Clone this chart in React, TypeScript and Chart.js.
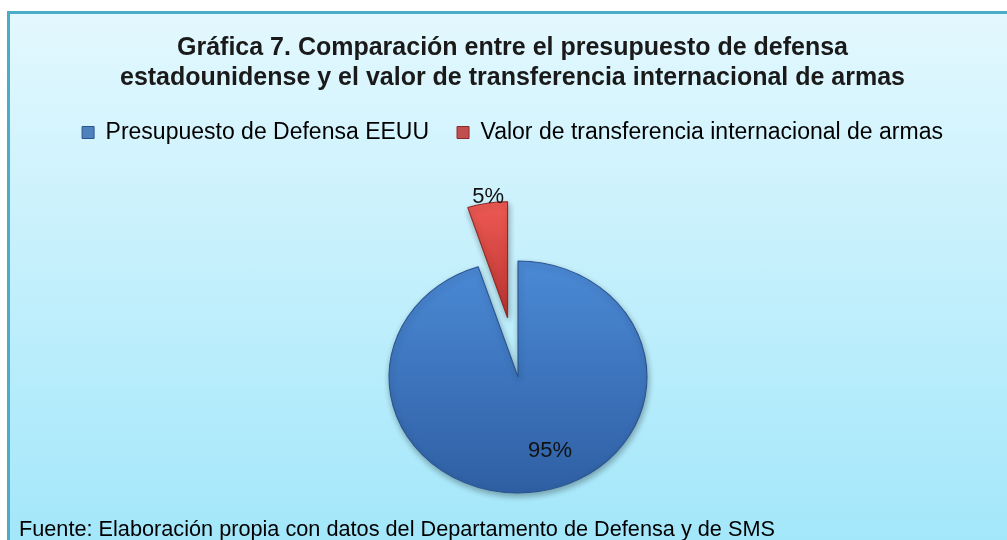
import React, { useEffect, useRef } from 'react';
import { Chart, registerables } from 'chart.js';

Chart.register(...registerables);

// ---- data ----
const TITLE_LINES = [
  'Gráfica 7. Comparación entre el presupuesto de defensa',
  'estadounidense y el valor de transferencia internacional de armas',
];
const CATEGORIES = ['Presupuesto de Defensa EEUU', 'Valor de transferencia internacional de armas'];
const SHARES = [95, 5];
const SOURCE_NOTE = 'Fuente: Elaboración propia con datos del Departamento de Defensa y de SMS';

// ---- style ----
const FONT = "'Liberation Sans', Arial, sans-serif";
const PIE_RADIUS = 116;
const STRETCH_X = 1.112;
const SHIFT_X = 5.5;
const EXPLODE = [0, 60];
const LABEL_ANGLE_SHIFT = [-12.3, 0.8];
const LABEL_RADIUS = [0.685, 1.05];
const SOLID = ['#4f81bd', '#c0504d'];
const GRAD_TOP = ['#4b8ad6', '#ee5a54'];
const GRAD_BOTTOM = ['#2f5fa3', '#bb332f'];
const BORDERS = ['#2a5490', '#8e2a26'];

const piePlugin = {
  id: 'pieStyling',
  afterDatasetsUpdate(chart: any) {
    const meta = chart.getDatasetMeta(0);
    meta.data.forEach((el: any, i: number) => {
      const off = EXPLODE[i] || 0;
      if (!off) return;
      const mid = (el.startAngle + el.endAngle) / 2;
      el.x += Math.cos(mid) * off;
      el.y += Math.sin(mid) * off;
    });
  },
  beforeDatasetsDraw(chart: any) {
    const ctx = chart.ctx;
    const a = chart.chartArea;
    const cx = (a.left + a.right) / 2;
    ctx.save();
    ctx.translate(cx + SHIFT_X, 0);
    ctx.scale(STRETCH_X, 1);
    ctx.translate(-cx, 0);
    ctx.shadowColor = 'rgba(0,0,0,0.32)';
    ctx.shadowBlur = 6;
    ctx.shadowOffsetX = 1;
    ctx.shadowOffsetY = 3;
  },
  afterDatasetsDraw(chart: any) {
    const ctx = chart.ctx;
    ctx.restore();
    const a = chart.chartArea;
    const cx = (a.left + a.right) / 2;
    const meta = chart.getDatasetMeta(0);
    const values = chart.data.datasets[0].data as number[];
    const total = values.reduce((s, v) => s + v, 0);
    ctx.save();
    ctx.font = `22px ${FONT}`;
    ctx.fillStyle = '#111111';
    ctx.textAlign = 'center';
    ctx.textBaseline = 'middle';
    meta.data.forEach((el: any, i: number) => {
      const mid = (el.startAngle + el.endAngle) / 2 + (LABEL_ANGLE_SHIFT[i] * Math.PI) / 180;
      const r = el.outerRadius * LABEL_RADIUS[i];
      const px = el.x + Math.cos(mid) * r;
      const py = el.y + Math.sin(mid) * r;
      const sx = cx + SHIFT_X + STRETCH_X * (px - cx);
      ctx.fillText(`${Math.round((values[i] / total) * 100)}%`, sx, py);
    });
    ctx.restore();
  },
};

export default function App() {
  const ref = useRef<HTMLCanvasElement | null>(null);

  useEffect(() => {
    if (!ref.current) return;
    const chart = new Chart(ref.current, {
      type: 'pie',
      data: {
        labels: CATEGORIES,
        datasets: [
          {
            data: SHARES,
            radius: PIE_RADIUS,
            backgroundColor: (c: any) => {
              const i = c.dataIndex ?? 0;
              const chart = c.chart;
              const a = chart.chartArea;
              if (!a) return SOLID[i];
              const cy = (a.top + a.bottom) / 2;
              const top = cy - EXPLODE[i] - PIE_RADIUS;
              const bottom = EXPLODE[i] ? cy - EXPLODE[i] : cy + PIE_RADIUS;
              const g = chart.ctx.createLinearGradient(0, top, 0, bottom);
              g.addColorStop(0, GRAD_TOP[i]);
              g.addColorStop(1, GRAD_BOTTOM[i]);
              return g;
            },
            borderColor: BORDERS,
            borderWidth: 1,
          } as any,
        ],
      },
      options: {
        responsive: false,
        animation: false,
        events: [],
        layout: { padding: { left: 18, right: 0, top: 0, bottom: 0 } },
        plugins: {
          title: {
            display: true,
            text: TITLE_LINES,
            color: '#1a1a1a',
            font: { family: FONT, size: 25, weight: 'bold', lineHeight: 1.2 },
            padding: { top: 33, bottom: 0 },
          },
          legend: {
            display: true,
            position: 'top',
            labels: {
              font: { family: FONT, size: 23 },
              color: '#262626',
              boxWidth: 12,
              boxHeight: 12,
              padding: 28,
              generateLabels: () =>
                CATEGORIES.map((t, i) => ({
                  text: t,
                  fillStyle: SOLID[i],
                  strokeStyle: BORDERS[i],
                  lineWidth: 1,
                  hidden: false,
                  index: i,
                })),
            },
          },
          tooltip: { enabled: false },
        },
      },
      plugins: [piePlugin],
    });
    return () => chart.destroy();
  }, []);

  return (
    <div>
      <div
        style={{
          position: 'fixed',
          left: 7,
          top: 11,
          width: 1020,
          height: 529,
          boxSizing: 'border-box',
          borderTop: '3px solid #4aacc6',
          borderLeft: '3px solid #4aacc6',
          background: 'linear-gradient(180deg, #e3f8fe 0%, #a3e7fa 100%)',
          zIndex: 0,
        }}
      />
      <canvas
        ref={ref}
        width={1007}
        height={600}
        style={{ position: 'fixed', left: 0, top: 0, zIndex: 1 }}
      />
      <div
        style={{
          position: 'fixed',
          left: 19,
          top: 518,
          font: `21.7px ${FONT}`,
          lineHeight: '22px',
          color: '#000',
          whiteSpace: 'nowrap',
          zIndex: 2,
        }}
      >
        {SOURCE_NOTE}
      </div>
    </div>
  );
}
